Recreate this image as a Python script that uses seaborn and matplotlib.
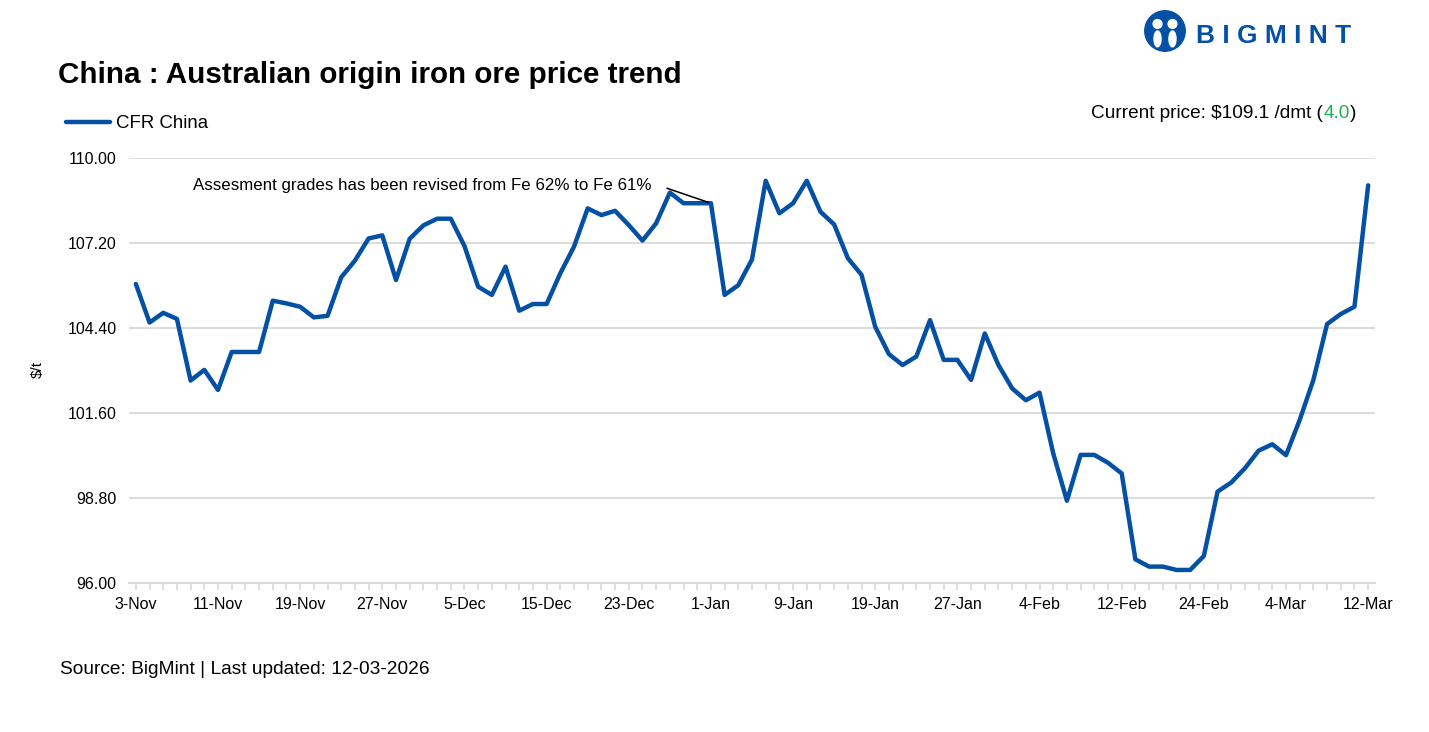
import matplotlib
matplotlib.use("Agg")
import matplotlib.pyplot as plt
import seaborn as sns
from matplotlib.patches import Circle, Ellipse
from matplotlib.offsetbox import TextArea, HPacker, AnnotationBbox

# CFR China price, $/dmt, one value per working day (3-Nov .. 12-Mar)
prices = [
    105.85, 104.58, 104.90, 104.70, 102.67, 103.02, 102.36, 103.61, 103.61, 103.61,
    105.30, 105.21, 105.10, 104.75, 104.80, 106.07, 106.62, 107.35, 107.45, 105.98,
    107.34, 107.78, 108.00, 108.00, 107.10, 105.76, 105.49, 106.42, 104.97, 105.19,
    105.19, 106.20, 107.08, 108.34, 108.12, 108.26, 107.79, 107.28, 107.85, 108.86,
    108.51, 108.51, 108.51, 105.49, 105.81, 106.66, 109.25, 108.18, 108.51, 109.25,
    108.23, 107.81, 106.70, 106.15, 104.44, 103.54, 103.18, 103.46, 104.66, 103.35,
    103.35, 102.69, 104.22, 103.18, 102.41, 102.02, 102.27, 100.27, 98.71, 100.22,
    100.22, 99.96, 99.61, 96.78, 96.54, 96.54, 96.43, 96.43, 96.89, 99.01,
    99.31, 99.78, 100.36, 100.57, 100.21, 101.37, 102.69, 104.53, 104.86, 105.10,
    109.10,
]
days = list(range(len(prices)))
tick_labels = ["3-Nov", "11-Nov", "19-Nov", "27-Nov", "5-Dec", "15-Dec", "23-Dec",
               "1-Jan", "9-Jan", "19-Jan", "27-Jan", "4-Feb", "12-Feb", "24-Feb",
               "4-Mar", "12-Mar"]
y_ticks = [96.0, 98.8, 101.6, 104.4, 107.2, 110.0]

current_price = prices[-1]
change = 4.0
note = "Assesment grades has been revised from Fe 62% to Fe 61%"

blue = "#0450a5"
grid = "#d9d9d9"

sns.set_style("white")
plt.rcParams["font.family"] = ["Liberation Sans", "DejaVu Sans"]
plt.rcParams["text.color"] = "black"
plt.rcParams["xtick.labelcolor"] = "black"
plt.rcParams["ytick.labelcolor"] = "black"

fig = plt.figure(figsize=(14.29, 7.32), dpi=100)
ax = fig.add_axes([129 / 1429, 1 - 583 / 732, 1246 / 1429, 425 / 732])

sns.lineplot(x=days, y=prices, ax=ax, color=blue, linewidth=3.2, label="CFR China",
             legend=False, clip_on=False)

ax.set_xlim(-0.5, len(prices) - 0.5)
ax.set_ylim(96, 110)
ax.set_yticks(y_ticks)
ax.set_yticklabels([f"{v:.2f}" for v in y_ticks])
ax.set_xticks(days[::6])
ax.set_xticklabels(tick_labels)
ax.set_xticks(days, minor=True)
ax.yaxis.grid(True, color=grid, linewidth=1.3)
ax.set_axisbelow(True)
for s in ["top", "right", "left"]:
    ax.spines[s].set_visible(False)
ax.spines["bottom"].set_color(grid)
ax.spines["bottom"].set_linewidth(1.5)
ax.tick_params(axis="x", which="both", direction="out", length=5, width=1.2,
               color=grid, labelsize=11.5, pad=5, bottom=True)
ax.tick_params(axis="y", length=0, labelsize=11.5, pad=9)
ax.set_xlabel("")
ax.set_ylabel("")

# revision note with leader line
ax.annotate("", xy=(42, prices[42]), xytext=(-44, 15), textcoords="offset pixels",
            arrowprops=dict(arrowstyle="-", color="black", lw=1.1, shrinkA=0, shrinkB=2))
ax.annotate(note, xy=(42, prices[42]), xytext=(-59, 18), textcoords="offset pixels",
            ha="right", va="center", fontsize=12.2)

fig.text(38 / 1429, 1 - 370 / 732, "$/t", rotation=90, ha="center", va="center", fontsize=11)
fig.text(58 / 1429, 1 - 75 / 732, "China : Australian origin iron ore price trend",
         fontsize=21.3, fontweight="bold", ha="left", va="center")

# legend
fig.lines.append(plt.Line2D([66 / 1429, 110 / 1429], [1 - 122 / 732, 1 - 122 / 732],
                            transform=fig.transFigure, color=blue, linewidth=3.2))
fig.text(116 / 1429, 1 - 123 / 732, "CFR China", fontsize=13.4, ha="left", va="center")

# current price
parts = [(f"Current price: ${current_price:.1f} /dmt (", "black"),
         (f"{change:.1f}", "#1fae54"), (")", "black")]
box = HPacker(children=[TextArea(t, textprops=dict(color=c, fontsize=13.7)) for t, c in parts],
              pad=0, sep=0)
fig.add_artist(AnnotationBbox(box, (1356 / 1429, 1 - 113 / 732), xycoords="figure fraction",
                              box_alignment=(1, 0.5), frameon=False, pad=0))

# logo
W, H = 1429, 732
logo = fig.add_axes([1143 / W, 1 - 53 / H, 44 / W, 44 / H])
logo.set_xlim(0, 1)
logo.set_ylim(0, 1)
logo.set_aspect("equal")
logo.axis("off")
logo.add_patch(Circle((0.5, 0.5), 0.46, color=blue))
logo.add_patch(Circle((0.33, 0.66), 0.1, color="white"))
logo.add_patch(Circle((0.67, 0.66), 0.1, color="white"))
logo.add_patch(Ellipse((0.33, 0.32), 0.16, 0.36, color="white"))
logo.add_patch(Ellipse((0.67, 0.32), 0.16, 0.36, color="white"))
logo.add_patch(Ellipse((0.5, 0.26), 0.1, 0.32, color=blue))
fig.text(1196 / W, 1 - 36 / H, "B I G M I N T", fontsize=19, fontweight="bold",
         color=blue, ha="left", va="center")

fig.text(60 / 1429, 1 - 669 / 732, "Source: BigMint | Last updated: 12-03-2026",
         fontsize=13.8, ha="left", va="center")

fig.savefig("out.png", dpi=100)
